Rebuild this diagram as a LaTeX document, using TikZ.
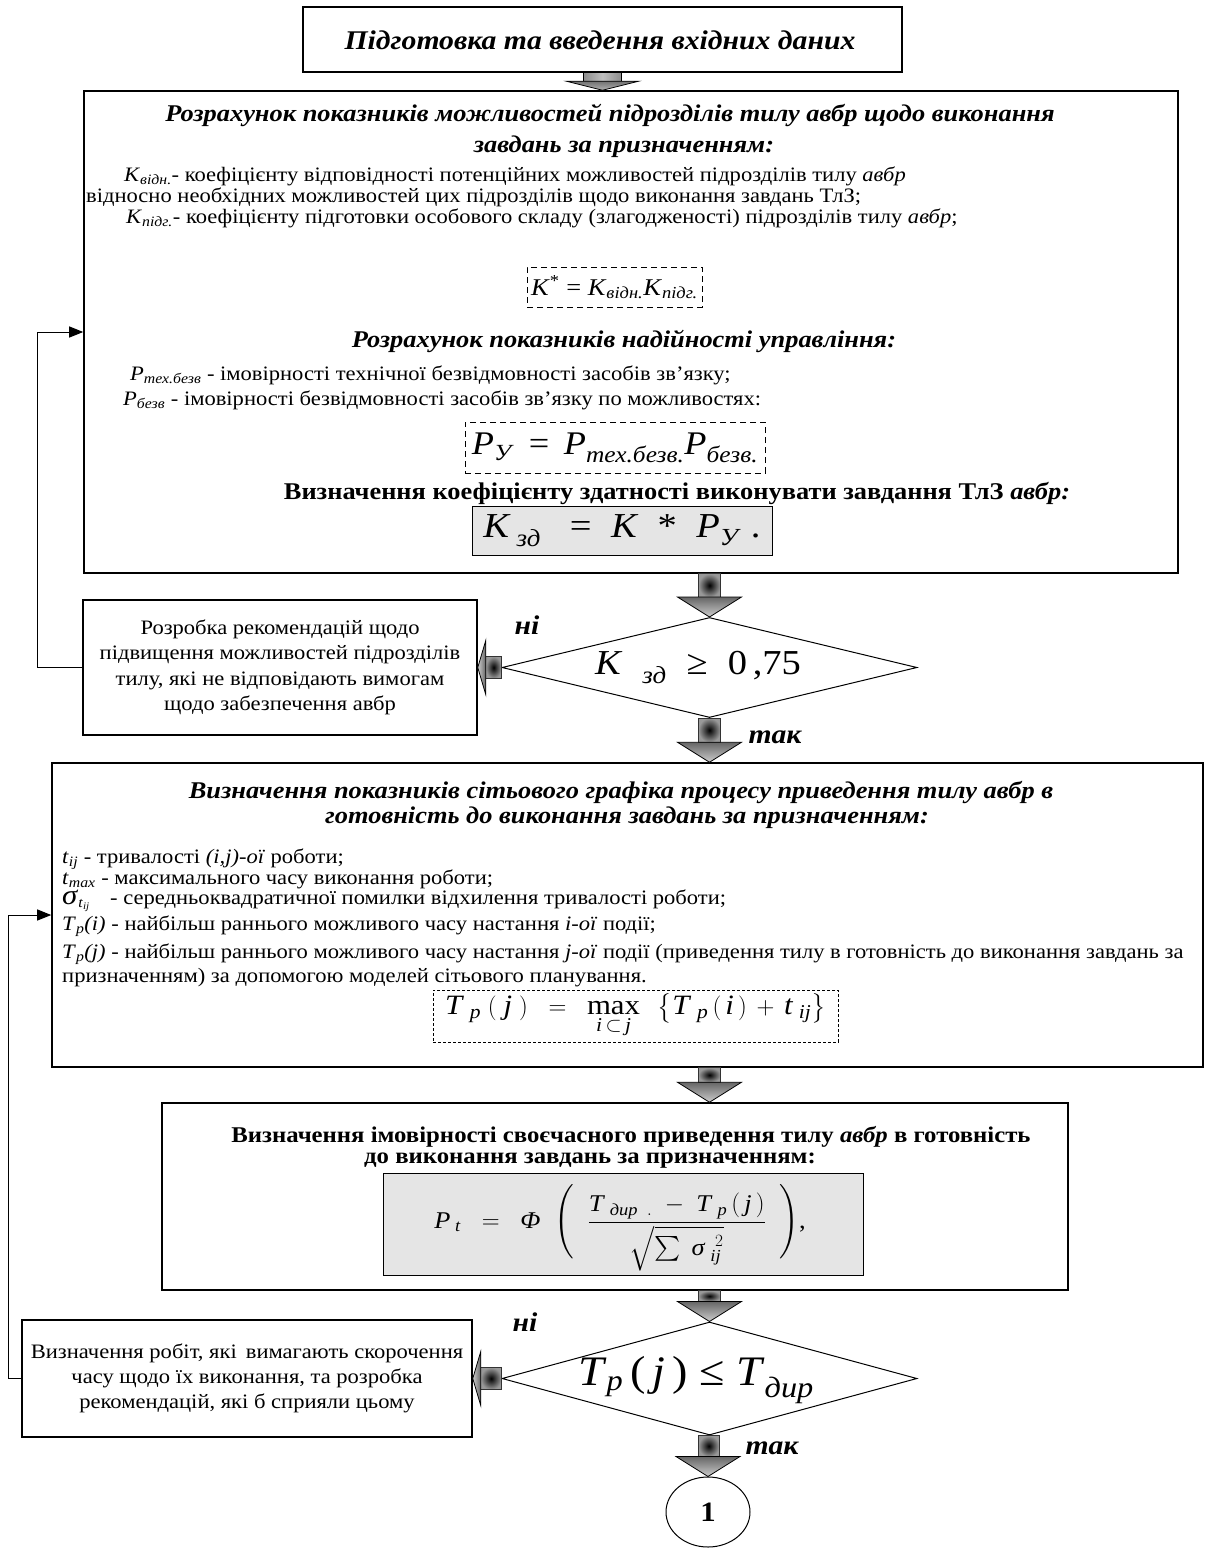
\documentclass[tikz,border=0pt]{standalone}
\usepackage{amsmath}
\usepackage{fontspec}
\setmainfont{Liberation Serif}[FakeStretch=1.1]
\usetikzlibrary{arrows.meta,shapes.geometric,calc,positioning}
\newcommand{\fs}[2]{\fontsize{#1bp}{#2bp}\selectfont}
\newcommand{\ks}[2]{\textit{#1}\textsubscript{\textit{#2}}}
\newcommand{\mi}[1]{\text{\textit{#1}}}
\tikzset{mainbox/.style={draw,line width=1.5bp,inner sep=0pt}}
\tikzset{dashbox/.style={draw,dash pattern=on 6bp off 4bp,line width=1bp,inner sep=0pt}}
\tikzset{graybox/.style={draw,fill=black!10,line width=1bp,inner sep=0pt}}
\tikzset{decision/.style={draw,diamond,line width=1bp,inner sep=0pt}}
\tikzset{heading/.style={anchor=base,inner sep=0pt,font=\fs{24}{26}\bfseries\itshape}}
\tikzset{bodytext/.style={anchor=base west,inner sep=0pt,font=\fs{20.5}{21}}}
\tikzset{answer/.style={font=\fs{27}{28}\bfseries\itshape}}
\tikzset{fback/.style={-{Triangle[length=14bp,width=11bp]},line width=1bp}}
\tikzset{arrshaft/.style={draw=black!80,line width=0.6bp,inner color=black,outer color=black!40}}
\tikzset{arrhead/.style={draw,line width=0.8bp,top color=black!60,bottom color=black!20}}
\tikzset{arrheadl/.style={draw,line width=0.8bp,left color=black!20,right color=black!60}}
\newcommand{\downblk}[2]{%
  \shadedraw[arrshaft] ($(#1)+(-11,0)$) rectangle ($(#2)+(11,-20)$);
  \shadedraw[arrhead] ($(#2)+(-32,-20)$) -- ($(#2)+(32,-20)$) -- (#2) -- cycle;}
\newcommand{\leftblk}[2]{%
  \shadedraw[arrshaft] ($(#1)+(0,-11)$) rectangle ($(#2)+(8,11)$);
  \shadedraw[arrheadl] ($(#2)+(8,-27)$) -- ($(#2)+(8,27)$) -- (#2) -- cycle;}

\begin{document}
\begin{tikzpicture}[x=1bp,y=-1bp]
\useasboundingbox (0,0) rectangle (1208,1548);
% input data
\node[mainbox,minimum width=599bp,minimum height=65bp] (start) at (602.5,39.5) {};
\node[heading,font=\fs{27}{28}\bfseries\itshape] (startt) at (600,50) {Підготовка та введення вхідних даних};
\shadedraw[draw,line width=0.6bp,left color=black!45,right color=black!45,middle color=black!25]
  ($(start.south)+(-19,0)$) rectangle ($(start.south)+(19,10)$);
% capabilities and reliability
\node[mainbox,minimum width=1094bp,minimum height=482bp] (calc1) at (631,332) {};
\shadedraw[draw,line width=0.8bp,top color=black!55,bottom color=black!30]
  ($(calc1.north -| start.south)+(-36,-9)$) -- ++(72,0) -- (calc1.north -| start.south) -- cycle;
\node[heading] (calc1ta) at (610,122) {Розрахунок показників можливостей підрозділів тилу авбр щодо виконання};
\node[heading] (calc1tb) at (624,153) {завдань за призначенням:};
\node[bodytext] (kvidn) at (124,181) {\ks{K}{відн.}- коефіцієнту відповідності потенційних можливостей підрозділів тилу \textit{авбр}};
\node[bodytext] (kvidn2) at (86,202) {відносно необхідних можливостей цих підрозділів щодо виконання завдань ТлЗ;};
\node[bodytext] (kpidg) at (126,223) {\ks{K}{підг.}- коефіцієнту підготовки особового складу (злагодженості) підрозділів тилу \textit{авбр};};
\node[dashbox,minimum width=175bp,minimum height=40bp,font=\fs{24}{26}] (kstar) at (614.5,287) {\textit{K}\textsuperscript{*} = \ks{K}{відн.}\ks{K}{підг.}};
\node[heading] (calc2t) at (624,347) {Розрахунок показників надійності управління:};
\node[bodytext] (ptech) at (130,380) {\ks{P}{тех.безв} - імовірності технічної безвідмовності засобів зв'язку;};
\node[bodytext] (pbezv) at (123,405) {\ks{P}{безв} - імовірності безвідмовності засобів зв'язку по можливостях:};
\node[dashbox,minimum width=300bp,minimum height=51bp,font=\fs{33}{35}] (pu) at (615,447.5) {\ks{P}{У} \,=\, \ks{P}{тех.безв.}\ks{P}{безв.}};
\node[heading,font=\fs{24}{26}\bfseries] (calc3t) at (677,499) {Визначення коефіцієнту здатності виконувати завдання ТлЗ \textit{авбр:}};
\node[graybox,minimum width=300bp,minimum height=49bp,font=\fs{35}{37}] (kzd) at (622,530.5) {\textit{K}\,\textsubscript{\textit{зд}}\;\; = \;\textit{K} \;*\; \ks{P}{У}\;.};
% first check
\node[decision,minimum width=415bp,minimum height=100bp,aspect=4.15] (dia1) at (709.5,667.5) {};
\node[font=\fs{35}{37},inner sep=0pt] (dia1t) at (698,667.5) {\textit{K}\hspace{20bp}\textsubscript{\textit{зд}}\hspace{20bp}≥\hspace{20bp}0\,,75};
\downblk{calc1.south -| dia1.north}{dia1.north}
\node[mainbox,minimum width=394bp,minimum height=135bp,align=center,font=\fs{20.5}{25.5}] (rec1) at (280,667.5) {Розробка рекомендацій щодо\\підвищення можливостей підрозділів\\тилу, які не відповідають вимогам\\щодо забезпечення авбр};
\leftblk{dia1.west}{rec1.east}
\node[answer] (no1) at (527,625) {ні};
\node[answer] (yes1) at (775,737) {так};
\draw[fback] (rec1.west) -- ++(-45,0) |- (calc1.west);
% network schedule
\node[mainbox,minimum width=1151bp,minimum height=304bp] (net) at (627.5,915) {};
\downblk{dia1.south}{net.north -| dia1.south}
\node[heading] (netta) at (621,798) {Визначення показників сітьового графіка процесу приведення тилу авбр в};
\node[heading] (nettb) at (627,823) {готовність до виконання завдань за призначенням:};
\node[bodytext] (tij) at (62,863) {\ks{t}{ij} - тривалості \textit{(i,j)-ої} роботи;};
\node[bodytext] (tmax) at (62,884) {\ks{t}{max} - максимального часу виконання роботи;};
\node[bodytext] (sig) at (62,904) {{\fs{28}{28}\textit{σ}}\textsubscript{\textit{t}\textsubscript{\textit{ij}}}\hspace{20bp}- середньоквадратичної помилки відхилення тривалості роботи;};
\node[bodytext] (tpi) at (62,930) {\ks{T}{p}\textit{(i)} - найбільш раннього можливого часу настання \textit{і-ої} події;};
\node[bodytext] (tpj) at (62,958) {\ks{T}{p}\textit{(j)} - найбільш раннього можливого часу настання \textit{j-ої} події (приведення тилу в готовність до виконання завдань за};
\node[bodytext] (tpj2) at (62,982) {призначенням) за допомогою моделей сітьового планування.};
\node[dashbox,dash pattern=on 3bp off 2bp,minimum width=405bp,minimum height=52bp,font=\fs{28}{30}] (tpf) at (635.5,1016)
  {$\mi{T}_{\;\mi{p}}\;(\;\mi{j}\;) \;\;=\;\; \mathop{\text{max}}\limits_{\mi{i}\,\subset\,\mi{j}}\;\; \left\{\mi{T}_{\;\mi{p}}\,(\,\mi{i}\,) \,+\, \mi{t}_{\;\mi{ij}}\right\}$};
% timely readiness
\node[mainbox,minimum width=906bp,minimum height=187bp] (prob) at (615,1196.5) {};
\downblk{net.south -| dia1.south}{prob.north -| dia1.south}
\node[graybox,minimum width=480bp,minimum height=102bp] (ptbox) at (623,1224) {};
\node[inner sep=0pt,font=\fs{24}{26}] (ptf) at (620,1228)
  {$\mi{P}_{\;\mi{t}} \;\;=\;\; \mi{Φ}\;\;\Biggl(\;\;\dfrac{\mi{T}_{\;\mi{дир}\;\;.} \;-\; \mi{T}_{\;\mi{p}}\,(\,\mi{j}\,)}{\sqrt{\textstyle\sum \;\mi{σ}_{\;\mi{ij}}^{\;\;2}}}\;\;\Biggr)$,\hspace{28bp}};
\node[heading,font=\fs{22.5}{25}\bfseries] (probta) at (631,1142) {Визначення імовірності своєчасного приведення тилу \textit{авбр} в готовність};
\node[heading,font=\fs{22.5}{25}\bfseries] (probtb) at (590,1163) {до виконання завдань за призначенням:};
% second check
\node[decision,minimum width=415bp,minimum height=113bp,aspect=3.67] (dia2) at (709.5,1378.5) {};
\downblk{prob.south -| dia2.north}{dia2.north}
\node[font=\fs{42}{44},inner sep=0pt] (dia2t) at (696,1380) {\ks{T}{p}\,(\,\textit{j}\,) ≤ \ks{T}{дир}};
\node[mainbox,minimum width=450bp,minimum height=117bp,align=center,font=\fs{20.5}{25}] (rec2) at (247,1378.5) {Визначення робіт, які\, вимагають скорочення\\часу щодо їх виконання, та розробка\\рекомендацій, які б сприяли цьому};
\leftblk{dia2.west}{rec2.east}
\node[answer] (no2) at (525,1322) {ні};
\node[answer] (yes2) at (772,1448) {так};
\draw[fback] (rec2.west) -- ++(-13,0) |- (net.west);
% connector to next sheet
\node[draw,ellipse,line width=1bp,minimum width=84bp,minimum height=70bp,font=\fs{28}{30}\bfseries] (cont) at (708,1512) {1};
\downblk{dia2.south}{cont.north}
\end{tikzpicture}
\end{document}
